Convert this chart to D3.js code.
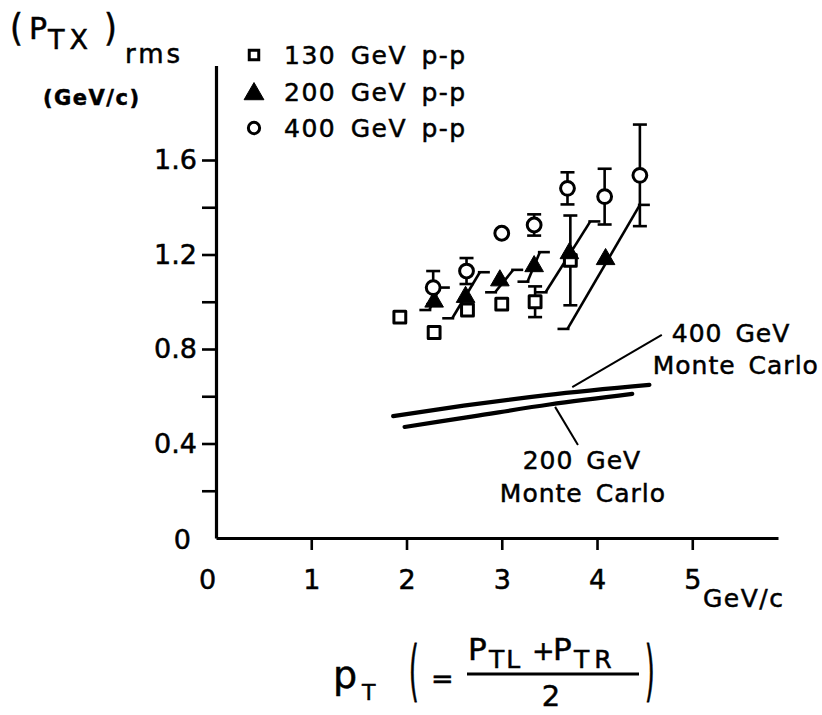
<!DOCTYPE html>
<html>
<head>
<meta charset="utf-8">
<script src="https://cdn.jsdelivr.net/npm/d3@7"></script>
<style>
  body { margin: 0; background: #fff; }
  text { font-family: "DejaVu Sans", sans-serif; fill: #000; stroke: #000; stroke-width: 0.5px; }
</style>
</head>
<body>
<div id="chart"></div>
<script>
// values (pT in GeV/c, (PTX)rms in GeV/c)
const sq130 = [
  {x: 1.93, y: 0.935}, {x: 2.29, y: 0.87}, {x: 2.64, y: 0.965},
  {x: 3.00, y: 0.99}, {x: 3.35, y: 1.0, e: 0.065}, {x: 3.72, y: 1.175, e: 0.19}
];
const tri200 = [
  {x: 2.29, y: 1.0}, {x: 2.62, y: 1.02}, {x: 2.98, y: 1.09},
  {x: 3.34, y: 1.15}, {x: 3.71, y: 1.205}, {x: 4.09, y: 1.18}
];
// slanted bars through the 200 GeV points: [x1, y1, x2, y2]
const tri200Bars = [
  [2.24, 0.965, 2.35, 1.06], [2.48, 0.93, 2.77, 1.125], [2.93, 1.04, 3.12, 1.135],
  [3.27, 1.085, 3.40, 1.21], [3.46, 1.04, 3.93, 1.34], [3.69, 0.885, 4.45, 1.41]
];
const circ400 = [
  {x: 2.28, y: 1.06, e: 0.07}, {x: 2.63, y: 1.13, e: 0.055}, {x: 3.00, y: 1.29},
  {x: 3.34, y: 1.325, e: 0.045}, {x: 3.69, y: 1.48, e: 0.068},
  {x: 4.08, y: 1.445, e: 0.118}, {x: 4.45, y: 1.535, e: 0.215}
];
const mc400 = [[1.86, 0.516], [2.6, 0.56], [3.47, 0.605], [4.55, 0.648]];
const mc200 = [[1.98, 0.47], [2.7, 0.515], [3.5, 0.565], [4.37, 0.61]];

const xTicks = [0, 1, 2, 3, 4, 5];
const yTicks = [0, 0.2, 0.4, 0.6, 0.8, 1.0, 1.2, 1.4, 1.6];
const yLabelled = [0, 0.4, 0.8, 1.2, 1.6];

const legendItems = ['130 GeV p-p', '200 GeV p-p', '400 GeV p-p'];

const W = 822, H = 715;
const svg = d3.select('#chart').append('svg')
  .attr('width', W).attr('height', H)
  .style('background', '#fff');

const x = d3.scaleLinear().domain([0, 5.9]).range([216, 778]);
const y = d3.scaleLinear().domain([0, 2.0]).range([538, 65.5]);

// axes
const xAxis = d3.axisBottom(x).tickValues(xTicks).tickSize(12).tickSizeOuter(0).tickPadding(20)
  .tickFormat(d3.format('d'));
const yAxis = d3.axisLeft(y).tickValues(yTicks).tickSize(14).tickSizeOuter(0).tickPadding(5)
  .tickFormat(d => yLabelled.some(v => Math.abs(v - d) < 1e-9) ? (d === 0 ? '0' : d.toFixed(1)) : '');

const gx = svg.append('g').attr('transform', `translate(0,${y(0)})`).call(xAxis);
const gy = svg.append('g').attr('transform', `translate(${x(0)},0)`).call(yAxis);

[gx, gy].forEach(g => {
  g.select('.domain').attr('stroke', '#000').attr('stroke-width', 3.2);
  g.selectAll('.tick line').attr('stroke', '#000').attr('stroke-width', 2.6);
  g.selectAll('.tick text').style('font-family', '"DejaVu Sans", sans-serif')
    .style('font-size', '27px').attr('fill', '#000');
});
gx.selectAll('.tick').filter(d => d === 0).select('line').remove();
gx.selectAll('.tick').filter(d => d === 0).select('text').attr('dx', -9);
gy.selectAll('.tick').filter(d => d === 0).select('line').remove();
gy.selectAll('.tick').filter(d => d === 0).select('text').attr('dx', -6).attr('dy', '0.4em');

svg.append('text').attr('x', 703).attr('y', 607)
  .style('font-size', '25px').style('letter-spacing', '1.5px').text('GeV/c');

// y title
const yt = svg.append('g');
yt.append('text').attr('transform', 'translate(10,41) scale(1,1.15)').style('font-size', '33px').text('(');
yt.append('text').attr('x', 29).attr('y', 39).style('font-size', '30px').text('P');
yt.append('text').attr('x', 48).attr('y', 49).style('font-size', '27px').style('letter-spacing', '5px').text('TX');
yt.append('text').attr('transform', 'translate(104,41) scale(1,1.15)').style('font-size', '33px').text(')');
yt.append('text').attr('x', 125).attr('y', 63).style('font-size', '26px').style('letter-spacing', '3px').text('rms');
yt.append('text').attr('x', 43).attr('y', 105).style('font-size', '21px').style('font-weight', 'bold')
  .style('letter-spacing', '1.5px').text('(GeV/c)');

// x title
const xt = svg.append('g');
xt.append('text').attr('x', 333).attr('y', 688).style('font-size', '38px').text('p');
xt.append('text').attr('x', 362).attr('y', 700).style('font-size', '22px').text('T');
xt.append('text').attr('transform', 'translate(409,693) scale(0.75,2.0)').style('font-size', '33px').text('(');
xt.append('text').attr('x', 431).attr('y', 688).style('font-size', '27px').text('=');
xt.append('text').attr('x', 468).attr('y', 660).style('font-size', '31px').text('P');
xt.append('text').attr('x', 489).attr('y', 668).style('font-size', '25px').style('letter-spacing', '2px').text('TL');
xt.append('text').attr('x', 532).attr('y', 660).style('font-size', '27px').text('+');
xt.append('text').attr('x', 553).attr('y', 660).style('font-size', '31px').text('P');
xt.append('text').attr('x', 574).attr('y', 668).style('font-size', '25px').style('letter-spacing', '5px').text('TR');
xt.append('line').attr('x1', 467).attr('x2', 639).attr('y1', 674).attr('y2', 674)
  .attr('stroke', '#000').attr('stroke-width', 2.8);
xt.append('text').attr('x', 551).attr('y', 706).attr('text-anchor', 'middle').style('font-size', '29px').text('2');
xt.append('text').attr('transform', 'translate(645,693) scale(0.75,2.0)').style('font-size', '33px').text(')');

// Monte Carlo curves
const line = d3.line().x(d => x(d[0])).y(d => y(d[1])).curve(d3.curveMonotoneX);
[mc400, mc200].forEach(s => {
  svg.append('path').attr('d', line(s)).attr('fill', 'none')
    .attr('stroke', '#000').attr('stroke-width', 4.2).attr('stroke-linecap', 'round');
});

// leader lines and labels (data units)
const leaders = [[3.74, 0.639, 4.68, 0.86], [3.56, 0.555, 3.80, 0.394]];
svg.selectAll('.leader').data(leaders).join('line').attr('class', 'leader')
  .attr('x1', d => x(d[0])).attr('y1', d => y(d[1]))
  .attr('x2', d => x(d[2])).attr('y2', d => y(d[3]))
  .attr('stroke', '#000').attr('stroke-width', 2);

const mcLabels = [
  {t: '400 GeV', x: 4.785, y: 0.83}, {t: 'Monte Carlo', x: 4.585, y: 0.694},
  {t: '200 GeV', x: 3.22, y: 0.292}, {t: 'Monte Carlo', x: 2.98, y: 0.152}
];
svg.selectAll('.mclab').data(mcLabels).join('text').attr('class', 'mclab')
  .attr('x', d => x(d.x)).attr('y', d => y(d.y))
  .style('font-size', '25px').style('letter-spacing', '1px').style('word-spacing', '4px')
  .text(d => d.t);

// error bars
function vbars(data) {
  const g = svg.append('g').attr('stroke', '#000').attr('stroke-width', 2.6);
  data.filter(d => d.e).forEach(d => {
    const cx = x(d.x), y1 = y(d.y - d.e), y2 = y(d.y + d.e);
    g.append('line').attr('x1', cx).attr('x2', cx).attr('y1', y1).attr('y2', y2);
    g.append('line').attr('x1', cx - 7).attr('x2', cx + 7).attr('y1', y1).attr('y2', y1);
    g.append('line').attr('x1', cx - 7).attr('x2', cx + 7).attr('y1', y2).attr('y2', y2);
  });
}
vbars(sq130);
vbars(circ400);

const bars = svg.append('g').attr('stroke', '#000').attr('stroke-width', 2.6).attr('fill', 'none');
tri200Bars.forEach(b => {
  const x1 = x(b[0]), y1 = y(b[1]), x2 = x(b[2]), y2 = y(b[3]);
  bars.append('line').attr('x1', x1).attr('y1', y1).attr('x2', x2).attr('y2', y2);
  bars.append('line').attr('x1', x1 - 10).attr('x2', x1 + 2).attr('y1', y1).attr('y2', y1);
  bars.append('line').attr('x1', x2 - 2).attr('x2', x2 + 10).attr('y1', y2).attr('y2', y2);
});

// markers
const sqSym = d3.symbol().type(d3.symbolSquare).size(140);
const triSym = d3.symbol().type(d3.symbolTriangle).size(150);
const cirSym = d3.symbol().type(d3.symbolCircle).size(150);

svg.selectAll('.sq').data(sq130).join('path').attr('class', 'sq')
  .attr('d', sqSym).attr('transform', d => `translate(${x(d.x)},${y(d.y)})`)
  .attr('fill', '#fff').attr('stroke', '#000').attr('stroke-width', 3).attr('stroke-linejoin', 'round');
svg.selectAll('.tri').data(tri200).join('path').attr('class', 'tri')
  .attr('d', triSym).attr('transform', d => `translate(${x(d.x)},${y(d.y)})`)
  .attr('fill', '#000').attr('stroke', '#000').attr('stroke-width', 1);
svg.selectAll('.cir').data(circ400).join('path').attr('class', 'cir')
  .attr('d', cirSym).attr('transform', d => `translate(${x(d.x)},${y(d.y)})`)
  .attr('fill', '#fff').attr('stroke', '#000').attr('stroke-width', 3);

// legend
const legY = [55, 92, 128];
const legSyms = [
  {sym: d3.symbol().type(d3.symbolSquare).size(90), fill: '#fff', sw: 3},
  {sym: d3.symbol().type(d3.symbolTriangle).size(170), fill: '#000', sw: 1},
  {sym: d3.symbol().type(d3.symbolCircle).size(100), fill: '#fff', sw: 3}
];
const leg = svg.append('g');
legendItems.forEach((t, i) => {
  leg.append('path').attr('d', legSyms[i].sym)
    .attr('transform', `translate(254,${legY[i] + (i === 1 ? 2 : 0)})`)
    .attr('fill', legSyms[i].fill).attr('stroke', '#000').attr('stroke-width', legSyms[i].sw);
  leg.append('text').attr('x', 284).attr('y', legY[i] + 9)
    .style('font-size', '25px').style('letter-spacing', '1.5px').style('word-spacing', '5px')
    .text(t);
});
</script>
</body>
</html>
